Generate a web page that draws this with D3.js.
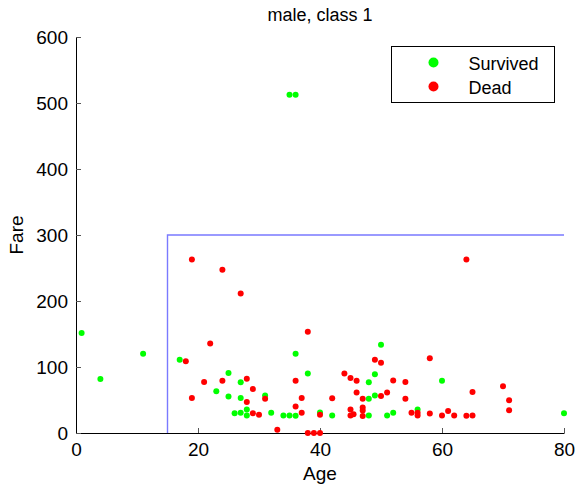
<!DOCTYPE html>
<html lang="en">
<head>
    <meta charset="UTF-8">
    <title>male, class 1</title>
    <style>
        body { margin: 0; background: #fff; }
        text { font-family: "Liberation Sans", Arial, Helvetica, sans-serif; fill: #000; }
        .axis path, .axis line { stroke: #000; }
        .axis .tick line { stroke: #555; }
    </style>
</head>
<body>
<div id="chart"></div>

<script src="https://d3js.org/d3.v7.min.js"></script>
<script>
    // survivors (green)
    var survivedAge  = [0.92, 4, 11, 17, 23, 25, 25, 26, 27, 27, 27, 28, 28, 31, 32, 34, 35, 36, 36, 35, 36,
                        38, 40, 42, 48, 48, 48, 49, 49, 50, 51, 52, 56, 60, 80];
    var survivedFare = [151.55, 81.86, 120, 110.88, 63.36, 91.08, 55.44, 30, 30.5, 76.73, 53.1, 35.5, 26.55, 57, 30.5, 26.55, 26.55, 26.3, 120, 512.33, 512.33,
                        90, 31, 26.55, 76.73, 52, 26.55, 89.1, 56.93, 133.65, 26.55, 30.5, 35.5, 79.2, 30];

    // dead (red)
    var deadAge  = [18, 19, 19, 21, 22, 24, 24, 27, 28, 28, 29, 29, 30, 31, 33, 36, 36, 37, 37, 38, 38, 39, 40, 40,
                    42, 44, 45, 45, 45, 45.5, 46, 46, 47, 47, 47, 47, 49, 50, 50, 51, 52, 54, 54, 55, 56, 56,
                    58, 58, 60, 61, 62, 64, 64, 65, 65, 70, 71, 71];
    var deadFare = [108.9, 53.1, 263, 77.29, 135.63, 79.2, 247.52, 211.5, 82.17, 47.1, 66.6, 30, 27.75, 52, 5, 79.2, 40.13, 30.7, 53.1, 153.46, 0, 0, 0, 27.72,
                    52.55, 90, 83.48, 35.5, 26.55, 28.5, 79.2, 61.18, 52, 38.5, 34.02, 25.59, 110.88, 106.43, 55.9, 61.38, 79.65, 77.29, 51.86, 30.5, 30.7, 26.55,
                    113.28, 29.7, 26.55, 33.5, 26.55, 26, 263, 26.55, 61.98, 71, 49.5, 34.65];

    // decision boundary drawn in blue
    var boundAge  = [15, 15, 80];
    var boundFare = [0, 300, 300];

    var xTicks = [0, 20, 40, 60, 80];
    var yTicks = [0, 100, 200, 300, 400, 500, 600];
    var legendLabels = ["Survived", "Dead"];
    var legendColors = ["#00ff00", "#ff0000"];

    var width = 576, height = 488;
    var margin = {top: 37, right: 12, bottom: 55, left: 76};
    var w = width - margin.left - margin.right;
    var h = height - margin.top - margin.bottom;

    var svg = d3.select("#chart")
        .append("svg")
        .attr("width", width)
        .attr("height", height);

    var g = svg.append("g")
        .attr("transform", "translate(" + margin.left + "," + margin.top + ")");

    var x = d3.scaleLinear().domain([0, 80]).range([0, w]);
    var y = d3.scaleLinear().domain([0, 600]).range([h, 0]);

    // axes, ticks pointing inward
    var xAxis = g.append("g")
        .attr("class", "axis")
        .attr("transform", "translate(0," + h + ")")
        .call(d3.axisBottom(x).tickValues(xTicks).tickSizeInner(-5).tickSizeOuter(0).tickPadding(10));
    var yAxis = g.append("g")
        .attr("class", "axis")
        .call(d3.axisLeft(y).tickValues(yTicks).tickSizeInner(-5).tickSizeOuter(0).tickPadding(8));

    g.selectAll(".axis text")
        .style("font-size", "19px")
        .style("font-family", "'Liberation Sans', Arial, sans-serif");
    xAxis.selectAll("path").attr("stroke", "#444");

    // blue boundary
    var line = d3.line()
        .x(function (d, i) { return x(boundAge[i]); })
        .y(function (d, i) { return y(boundFare[i]); });
    g.append("path")
        .datum(boundAge)
        .attr("d", line)
        .attr("fill", "none")
        .attr("stroke", "#7a7aff")
        .attr("stroke-width", 1.4);

    // points
    g.selectAll(".surv")
        .data(survivedAge)
        .enter()
        .append("circle")
        .attr("class", "surv")
        .attr("cx", function (d) { return x(d); })
        .attr("cy", function (d, i) { return y(survivedFare[i]); })
        .attr("r", 3)
        .attr("fill", legendColors[0]);

    g.selectAll(".dead")
        .data(deadAge)
        .enter()
        .append("circle")
        .attr("class", "dead")
        .attr("cx", function (d) { return x(d); })
        .attr("cy", function (d, i) { return y(deadFare[i]); })
        .attr("r", 3)
        .attr("fill", legendColors[1]);

    // title and labels
    svg.append("text")
        .attr("x", margin.left + w / 2)
        .attr("y", 21)
        .attr("text-anchor", "middle")
        .style("font-size", "18px")
        .text("male, class 1");

    svg.append("text")
        .attr("x", margin.left + w / 2)
        .attr("y", 480)
        .attr("text-anchor", "middle")
        .style("font-size", "19px")
        .text("Age");

    svg.append("text")
        .attr("transform", "translate(23," + (margin.top + h / 2) + ") rotate(-90)")
        .attr("text-anchor", "middle")
        .style("font-size", "19px")
        .text("Fare");

    // legend
    var legend = svg.append("g").attr("transform", "translate(391.5,46.5)");
    legend.append("rect")
        .attr("width", 163)
        .attr("height", 56)
        .attr("fill", "#fff")
        .attr("stroke", "#000")
        .attr("stroke-width", 1);

    legend.selectAll("circle")
        .data(legendLabels)
        .enter()
        .append("circle")
        .attr("cx", 42)
        .attr("cy", function (d, i) { return 16 + i * 24; })
        .attr("r", 5)
        .attr("fill", function (d, i) { return legendColors[i]; });

    legend.selectAll("text")
        .data(legendLabels)
        .enter()
        .append("text")
        .attr("x", 77)
        .attr("y", function (d, i) { return 23 + i * 24; })
        .style("font-size", "18px")
        .text(function (d) { return d; });
</script>
</body>
</html>
